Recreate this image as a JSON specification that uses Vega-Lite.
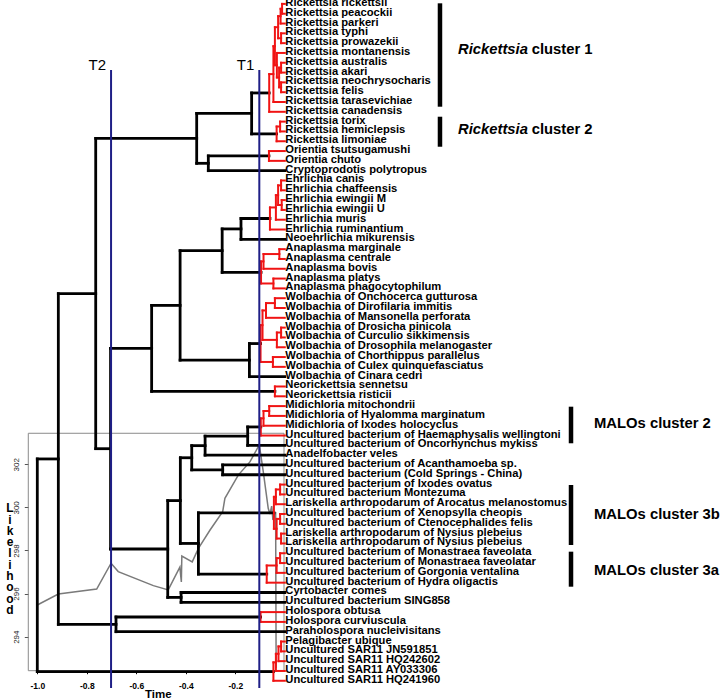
{
  "$schema": "https://vega.github.io/schema/vega-lite/v6.json",
  "width": 720,
  "height": 700,
  "autosize": {"type": "none"},
  "padding": 0,
  "background": "white",
  "config": {"view": {"stroke": null}, "font": "Liberation Sans"},
  "datasets": {
    "nodes": [
      {"id": "L0", "parent": "SFG1", "t": 0, "i": 0, "name": "Rickettsia rickettsii"},
      {"id": "L1", "parent": "SFG1", "t": 0, "i": 1, "name": "Rickettsia peacockii"},
      {"id": "L2", "parent": "SFG2", "t": 0, "i": 2, "name": "Rickettsia parkeri"},
      {"id": "L3", "parent": "TG", "t": 0, "i": 3, "name": "Rickettsia typhi"},
      {"id": "L4", "parent": "TG", "t": 0, "i": 4, "name": "Rickettsia prowazekii"},
      {"id": "L5", "parent": "D", "t": 0, "i": 5, "name": "Rickettsia montanensis"},
      {"id": "L6", "parent": "AA", "t": 0, "i": 6, "name": "Rickettsia australis"},
      {"id": "L7", "parent": "AA", "t": 0, "i": 7, "name": "Rickettsia akari"},
      {"id": "L8", "parent": "NEF", "t": 0, "i": 8, "name": "Rickettsia neochrysocharis"},
      {"id": "L9", "parent": "NEF", "t": 0, "i": 9, "name": "Rickettsia felis"},
      {"id": "L10", "parent": "A", "t": 0, "i": 10, "name": "Rickettsia tarasevichiae"},
      {"id": "L11", "parent": "C1", "t": 0, "i": 11, "name": "Rickettsia canadensis"},
      {"id": "L12", "parent": "TH", "t": 0, "i": 12, "name": "Rickettsia torix"},
      {"id": "L13", "parent": "TH", "t": 0, "i": 13, "name": "Rickettsia hemiclepsis"},
      {"id": "L14", "parent": "C2", "t": 0, "i": 14, "name": "Rickettsia limoniae"},
      {"id": "L15", "parent": "ORI", "t": 0, "i": 15, "name": "Orientia tsutsugamushi"},
      {"id": "L16", "parent": "ORI", "t": 0, "i": 16, "name": "Orientia chuto"},
      {"id": "L17", "parent": "NORI", "t": 0, "i": 17, "name": "Cryptoprodotis polytropus"},
      {"id": "L18", "parent": "ECC", "t": 0, "i": 18, "name": "Ehrlichia canis"},
      {"id": "L19", "parent": "ECC", "t": 0, "i": 19, "name": "Ehrlichia chaffeensis"},
      {"id": "L20", "parent": "EW", "t": 0, "i": 20, "name": "Ehrlichia ewingii M"},
      {"id": "L21", "parent": "EW", "t": 0, "i": 21, "name": "Ehrlichia ewingii U"},
      {"id": "L22", "parent": "E1", "t": 0, "i": 22, "name": "Ehrlichia muris"},
      {"id": "L23", "parent": "EROOT", "t": 0, "i": 23, "name": "Ehrlichia ruminantium"},
      {"id": "L24", "parent": "NEHR", "t": 0, "i": 24, "name": "Neoehrlichia mikurensis"},
      {"id": "L25", "parent": "MC", "t": 0, "i": 25, "name": "Anaplasma marginale"},
      {"id": "L26", "parent": "MC", "t": 0, "i": 26, "name": "Anaplasma centrale"},
      {"id": "L27", "parent": "A1", "t": 0, "i": 27, "name": "Anaplasma bovis"},
      {"id": "L28", "parent": "A2", "t": 0, "i": 28, "name": "Anaplasma platys"},
      {"id": "L29", "parent": "A2", "t": 0, "i": 29, "name": "Anaplasma phagocytophilum"},
      {"id": "L30", "parent": "OD", "t": 0, "i": 30, "name": "Wolbachia of Onchocerca gutturosa"},
      {"id": "L31", "parent": "OD", "t": 0, "i": 31, "name": "Wolbachia of Dirofilaria immitis"},
      {"id": "L32", "parent": "W3", "t": 0, "i": 32, "name": "Wolbachia of Mansonella perforata"},
      {"id": "L33", "parent": "DC", "t": 0, "i": 33, "name": "Wolbachia of Drosicha pinicola"},
      {"id": "L34", "parent": "DC", "t": 0, "i": 34, "name": "Wolbachia of Curculio sikkimensis"},
      {"id": "L35", "parent": "W4", "t": 0, "i": 35, "name": "Wolbachia of Drosophila melanogaster"},
      {"id": "L36", "parent": "CCX", "t": 0, "i": 36, "name": "Wolbachia of Chorthippus parallelus"},
      {"id": "L37", "parent": "CCX", "t": 0, "i": 37, "name": "Wolbachia of Culex quinquefasciatus"},
      {"id": "L38", "parent": "WR", "t": 0, "i": 38, "name": "Wolbachia of Cinara cedri"},
      {"id": "L39", "parent": "NEO", "t": 0, "i": 39, "name": "Neorickettsia sennetsu"},
      {"id": "L40", "parent": "NEO", "t": 0, "i": 40, "name": "Neorickettsia risticii"},
      {"id": "L41", "parent": "M2", "t": 0, "i": 41, "name": "Midichloria mitochondrii"},
      {"id": "L42", "parent": "M2", "t": 0, "i": 42, "name": "Midichloria of Hyalomma marginatum"},
      {"id": "L43", "parent": "M1", "t": 0, "i": 43, "name": "Midichloria of Ixodes holocyclus"},
      {"id": "L44", "parent": "MR", "t": 0, "i": 44, "name": "Uncultured bacterium of Haemaphysalis wellingtoni"},
      {"id": "L45", "parent": "NR", "t": 0, "i": 45, "name": "Uncultured bacterium of Oncorhynchus mykiss"},
      {"id": "L46", "parent": "NQ", "t": 0, "i": 46, "name": "Anadelfobacter veles"},
      {"id": "L47", "parent": "NAC", "t": 0, "i": 47, "name": "Uncultured bacterium of Acanthamoeba sp."},
      {"id": "L48", "parent": "NAC", "t": 0, "i": 48, "name": "Uncultured bacterium (Cold Springs - China)"},
      {"id": "L49", "parent": "IM", "t": 0, "i": 49, "name": "Uncultured bacterium of Ixodes ovatus"},
      {"id": "L50", "parent": "IM", "t": 0, "i": 50, "name": "Uncultured bacterium Montezuma"},
      {"id": "L51", "parent": "IMA", "t": 0, "i": 51, "name": "Lariskella arthropodarum of Arocatus melanostomus"},
      {"id": "L52", "parent": "XC", "t": 0, "i": 52, "name": "Uncultured bacterium of Xenopsylla cheopis"},
      {"id": "L53", "parent": "XC", "t": 0, "i": 53, "name": "Uncultured bacterium of Ctenocephalides felis"},
      {"id": "L54", "parent": "NN", "t": 0, "i": 54, "name": "Lariskella arthropodarum of Nysius plebeius"},
      {"id": "L55", "parent": "NN", "t": 0, "i": 55, "name": "Lariskella arthropodarum of Nysius plebeius"},
      {"id": "L56", "parent": "MM", "t": 0, "i": 56, "name": "Uncultured bacterium of Monastraea faveolata"},
      {"id": "L57", "parent": "MM", "t": 0, "i": 57, "name": "Uncultured bacterium of Monastraea faveolatar"},
      {"id": "L58", "parent": "G", "t": 0, "i": 58, "name": "Uncultured bacterium of Gorgonia ventalina"},
      {"id": "L59", "parent": "A3", "t": 0, "i": 59, "name": "Uncultured bacterium of Hydra oligactis"},
      {"id": "L60", "parent": "NCYR", "t": 0, "i": 60, "name": "Cyrtobacter comes"},
      {"id": "L61", "parent": "NCYR", "t": 0, "i": 61, "name": "Uncultured bacterium SING858"},
      {"id": "L62", "parent": "HO", "t": 0, "i": 62, "name": "Holospora obtusa"},
      {"id": "L63", "parent": "HO", "t": 0, "i": 63, "name": "Holospora curviuscula"},
      {"id": "L64", "parent": "NHOL", "t": 0, "i": 64, "name": "Paraholospora nucleivisitans"},
      {"id": "L65", "parent": "Z", "t": 0, "i": 65, "name": "Pelagibacter ubique"},
      {"id": "L66", "parent": "Z", "t": 0, "i": 66, "name": "Uncultured SAR11 JN591851"},
      {"id": "L67", "parent": "Y", "t": 0, "i": 67, "name": "Uncultured SAR11 HQ242602"},
      {"id": "L68", "parent": "X", "t": 0, "i": 68, "name": "Uncultured SAR11 AY033306"},
      {"id": "L69", "parent": "SR", "t": 0, "i": 69, "name": "Uncultured SAR11 HQ241960"},
      {"id": "SFG1", "parent": "SFG2", "t": -0.011, "i": 0.5, "part": "cluster"},
      {"id": "SFG2", "parent": "C", "t": -0.017, "i": 1.25, "part": "cluster"},
      {"id": "TG", "parent": "C", "t": -0.015, "i": 3.5, "part": "cluster"},
      {"id": "C", "parent": "B", "t": -0.027, "i": 2.375, "part": "cluster"},
      {"id": "AA", "parent": "E", "t": -0.015, "i": 6.5, "part": "cluster"},
      {"id": "NEF", "parent": "E", "t": -0.015, "i": 8.5, "part": "cluster"},
      {"id": "E", "parent": "D", "t": -0.023, "i": 7.5, "part": "cluster"},
      {"id": "D", "parent": "B", "t": -0.032, "i": 6.25, "part": "cluster"},
      {"id": "B", "parent": "A", "t": -0.04, "i": 4.3125, "part": "cluster"},
      {"id": "A", "parent": "C1", "t": -0.046, "i": 7.156, "part": "cluster"},
      {"id": "C1", "parent": "NRIC", "t": -0.063, "i": 9.078, "part": "cluster"},
      {"id": "TH", "parent": "C2", "t": -0.019, "i": 12.5, "part": "cluster"},
      {"id": "C2", "parent": "NRIC", "t": -0.033, "i": 13.25, "part": "cluster"},
      {"id": "NRIC", "parent": "NC", "t": -0.134, "i": 11.164, "part": "backbone"},
      {"id": "ORI", "parent": "NORI", "t": -0.064, "i": 15.5, "part": "cluster"},
      {"id": "NORI", "parent": "NC", "t": -0.309, "i": 16.25, "part": "backbone"},
      {"id": "NC", "parent": "NB", "t": -0.356, "i": 13.707, "part": "backbone"},
      {"id": "ECC", "parent": "E2", "t": -0.015, "i": 18.5, "part": "cluster"},
      {"id": "EW", "parent": "E2", "t": -0.0125, "i": 20.5, "part": "cluster"},
      {"id": "E2", "parent": "E1", "t": -0.027, "i": 19.5, "part": "cluster"},
      {"id": "E1", "parent": "EROOT", "t": -0.036, "i": 20.75, "part": "cluster"},
      {"id": "EROOT", "parent": "NEHR", "t": -0.06, "i": 21.875, "part": "cluster"},
      {"id": "NEHR", "parent": "NH", "t": -0.177, "i": 22.938, "part": "backbone"},
      {"id": "MC", "parent": "A1", "t": -0.022, "i": 25.5, "part": "cluster"},
      {"id": "A1", "parent": "ANA", "t": -0.086, "i": 26.25, "part": "cluster"},
      {"id": "A2", "parent": "ANA", "t": -0.046, "i": 28.5, "part": "cluster"},
      {"id": "ANA", "parent": "NH", "t": -0.096, "i": 27.375, "part": "cluster"},
      {"id": "NH", "parent": "NG", "t": -0.253, "i": 25.156, "part": "backbone"},
      {"id": "OD", "parent": "W3", "t": -0.04, "i": 30.5, "part": "cluster"},
      {"id": "W3", "parent": "W2", "t": -0.076, "i": 31.25, "part": "cluster"},
      {"id": "DC", "parent": "W4", "t": -0.015, "i": 33.5, "part": "cluster"},
      {"id": "W4", "parent": "W2", "t": -0.032, "i": 34.25, "part": "cluster"},
      {"id": "W2", "parent": "W1", "t": -0.09, "i": 32.75, "part": "cluster"},
      {"id": "CCX", "parent": "W1", "t": -0.048, "i": 36.5, "part": "cluster"},
      {"id": "W1", "parent": "WR", "t": -0.098, "i": 34.625, "part": "cluster"},
      {"id": "WR", "parent": "NG", "t": -0.143, "i": 36.313, "part": "backbone"},
      {"id": "NG", "parent": "NE", "t": -0.423, "i": 30.734, "part": "backbone"},
      {"id": "NEO", "parent": "NE", "t": -0.04, "i": 39.5, "part": "cluster"},
      {"id": "NE", "parent": "ND", "t": -0.538, "i": 35.117, "part": "backbone"},
      {"id": "M2", "parent": "M1", "t": -0.063, "i": 41.5, "part": "cluster"},
      {"id": "M1", "parent": "MR", "t": -0.086, "i": 42.25, "part": "cluster"},
      {"id": "MR", "parent": "NR", "t": -0.097, "i": 43.125, "part": "cluster"},
      {"id": "NR", "parent": "NQ", "t": -0.15, "i": 44.063, "part": "backbone"},
      {"id": "NQ", "parent": "NM2", "t": -0.322, "i": 45.031, "part": "backbone"},
      {"id": "NAC", "parent": "NM2", "t": -0.251, "i": 47.5, "part": "backbone"},
      {"id": "NM2", "parent": "NMM", "t": -0.376, "i": 46.266, "part": "backbone"},
      {"id": "IM", "parent": "IMA", "t": -0.019, "i": 49.5, "part": "cluster"},
      {"id": "IMA", "parent": "B3", "t": -0.036, "i": 50.25, "part": "cluster"},
      {"id": "XC", "parent": "XCN", "t": -0.019, "i": 52.5, "part": "cluster"},
      {"id": "NN", "parent": "XCN", "t": -0.015, "i": 54.5, "part": "cluster"},
      {"id": "XCN", "parent": "B3", "t": -0.033, "i": 53.5, "part": "cluster"},
      {"id": "B3", "parent": "N3", "t": -0.044, "i": 51.875, "part": "cluster"},
      {"id": "MM", "parent": "G", "t": -0.019, "i": 56.5, "part": "cluster"},
      {"id": "G", "parent": "A3", "t": -0.033, "i": 57.25, "part": "cluster"},
      {"id": "A3", "parent": "N3", "t": -0.073, "i": 58.125, "part": "cluster"},
      {"id": "N3", "parent": "NMM", "t": -0.349, "i": 55.0, "part": "backbone"},
      {"id": "NMM", "parent": "NFF", "t": -0.422, "i": 50.633, "part": "backbone"},
      {"id": "NCYR", "parent": "NFF", "t": -0.419, "i": 60.5, "part": "backbone"},
      {"id": "NFF", "parent": "ND", "t": -0.473, "i": 55.566, "part": "backbone"},
      {"id": "ND", "parent": "NB", "t": -0.704, "i": 45.342, "part": "backbone"},
      {"id": "NB", "parent": "NA", "t": -0.764, "i": 29.524, "part": "backbone"},
      {"id": "HO", "parent": "NHOL", "t": -0.098, "i": 62.5, "part": "cluster"},
      {"id": "NHOL", "parent": "NA", "t": -0.682, "i": 63.25, "part": "backbone"},
      {"id": "NA", "parent": "ROOT", "t": -0.915, "i": 46.387, "part": "backbone"},
      {"id": "Z", "parent": "Y", "t": -0.015, "i": 65.5, "part": "cluster"},
      {"id": "Y", "parent": "X", "t": -0.0255, "i": 66.25, "part": "cluster"},
      {"id": "X", "parent": "SR", "t": -0.036, "i": 67.125, "part": "cluster"},
      {"id": "SR", "parent": "ROOT", "t": -0.046, "i": 68.063, "part": "cluster"},
      {"id": "ROOT", "parent": null, "t": -1.0, "i": 57.225, "part": "backbone"}
    ],
    "likelihood": [
      {"t": -1.0, "L": 295.47},
      {"t": -0.915, "L": 295.98},
      {"t": -0.76, "L": 296.21},
      {"t": -0.702, "L": 297.41},
      {"t": -0.673, "L": 297.02},
      {"t": -0.531, "L": 296.37},
      {"t": -0.471, "L": 296.17},
      {"t": -0.424, "L": 297.23},
      {"t": -0.418, "L": 296.54},
      {"t": -0.416, "L": 297.74},
      {"t": -0.374, "L": 297.47},
      {"t": -0.349, "L": 298.1},
      {"t": -0.302, "L": 298.95},
      {"t": -0.251, "L": 299.8},
      {"t": -0.242, "L": 300.42},
      {"t": -0.188, "L": 301.5},
      {"t": -0.141, "L": 302.11},
      {"t": -0.103, "L": 302.9},
      {"t": -0.087, "L": 301.66},
      {"t": -0.067, "L": 299.96},
      {"t": -0.06, "L": 299.69},
      {"t": -0.053, "L": 300.06},
      {"t": -0.048, "L": 299.42},
      {"t": -0.037, "L": 299.79},
      {"t": -0.035, "L": 292.55}
    ],
    "thresholds": [
      {"name": "T2", "t": -0.702},
      {"name": "T1", "t": -0.103}
    ],
    "clusters": [
      {"group": "Rickettsia", "label": "cluster 1", "from": -0.06, "to": 10.48, "mid": 4.7},
      {"group": "Rickettsia", "label": "cluster 2", "from": 11.5, "to": 14.56, "mid": 12.85},
      {"group": "MALOs", "label": "MALOs cluster 2", "from": 41.06, "to": 44.79, "mid": 42.8},
      {"group": "MALOs", "label": "MALOs cluster 3b", "from": 49.04, "to": 55.16, "mid": 52.1},
      {"group": "MALOs", "label": "MALOs cluster 3a", "from": 55.84, "to": 59.41, "mid": 57.78}
    ]
  },
  "layer": [
    {
      "layer": [
        {
          "data": {"values": [{}]},
          "mark": {"type": "rect", "filled": false, "stroke": "#8a8a8a", "strokeWidth": 1},
          "encoding": {
            "x": {"datum": -1.0364, "type": "quantitative", "scale": {"domain": [-1.1507, 1.7584], "nice": false, "zero": false}},
            "x2": {"datum": -0.0032},
            "y": {"datum": 303.44, "type": "quantitative", "scale": {"domain": [291.06, 323.55], "nice": false, "zero": false}},
            "y2": {"datum": 292.42}
          }
        },
        {
          "data": {"name": "likelihood"},
          "mark": {"type": "line", "color": "#7a7a7a", "strokeWidth": 1.5},
          "encoding": {
            "x": {"field": "t", "type": "quantitative", "scale": {"domain": [-1.1507, 1.7584], "nice": false, "zero": false},
              "axis": {"title": null, "values": [-1, -0.8, -0.6, -0.4, -0.2], "labelExpr": "replace(format(datum.value, '.1f'), '\u2212', '-')", "offset": -29.3, "domain": false, "grid": false, "ticks": true, "tickSize": 3, "tickColor": "#000000", "labelFont": "Liberation Sans", "labelFontSize": 8.5, "labelFontWeight": "bold", "labelColor": "#000000", "labelPadding": 8}},
            "y": {"field": "L", "type": "quantitative", "scale": {"domain": [291.06, 323.55], "nice": false, "zero": false},
              "axis": {"orient": "left", "title": null, "values": [294, 296, 298, 300, 302], "offset": -28.3, "domain": false, "grid": false, "ticks": true, "tickSize": 4, "tickColor": "#555555", "labelAngle": -90, "labelAlign": "center", "labelBaseline": "bottom", "labelFont": "Liberation Sans", "labelFontSize": 8, "labelColor": "#222222", "labelPadding": 4}}
          }
        },
        {
          "data": {"values": [{}]},
          "mark": {"type": "text", "text": "L\ni\nk\ne\nl\ni\nh\no\no\nd", "lineBreak": "\n", "lineHeight": 11.3, "align": "center", "baseline": "middle", "font": "Liberation Sans", "fontSize": 12, "fontWeight": "bold", "color": "#000000"},
          "encoding": {
            "x": {"datum": -1.1103, "type": "quantitative"},
            "y": {"datum": 299.96, "type": "quantitative"}
          }
        },
        {
          "data": {"values": [{}]},
          "mark": {"type": "text", "text": "Time", "align": "center", "baseline": "middle", "font": "Liberation Sans", "fontSize": 11.5, "fontWeight": "bold", "color": "#000000"},
          "encoding": {
            "x": {"datum": -0.511, "type": "quantitative"},
            "y": {"datum": 291.3, "type": "quantitative"}
          }
        }
      ]
    },
    {
      "layer": [
        {
          "data": {"name": "nodes"},
          "transform": [
            {"filter": "datum.parent != null"},
            {"lookup": "parent", "from": {"data": {"name": "nodes"}, "key": "id", "fields": ["t", "part"]}, "as": ["pt", "ppart"]}
          ],
          "mark": {"type": "rule", "strokeCap": "square"},
          "encoding": {
            "x": {"field": "pt", "type": "quantitative"},
            "x2": {"field": "t"},
            "y": {"field": "i", "type": "quantitative", "axis": null, "scale": {"domain": [-0.398, 70.96], "reverse": true, "nice": false, "zero": false}},
            "color": {"field": "ppart", "type": "nominal", "scale": {"domain": ["backbone", "cluster"], "range": ["#000000", "#f01414"]}, "legend": null},
            "strokeWidth": {"field": "ppart", "type": "ordinal", "scale": {"domain": ["backbone", "cluster"], "range": [2.8, 2]}, "legend": null}
          }
        },
        {
          "data": {"name": "nodes"},
          "transform": [
            {"filter": "datum.parent != null"},
            {"aggregate": [{"op": "min", "field": "i", "as": "i0"}, {"op": "max", "field": "i", "as": "i1"}], "groupby": ["parent"]},
            {"lookup": "parent", "from": {"data": {"name": "nodes"}, "key": "id", "fields": ["t", "part"]}, "as": ["nt", "npart"]}
          ],
          "mark": {"type": "rule", "strokeCap": "square"},
          "encoding": {
            "x": {"field": "nt", "type": "quantitative"},
            "y": {"field": "i0", "type": "quantitative", "axis": null, "scale": {"domain": [-0.398, 70.96], "reverse": true, "nice": false, "zero": false}},
            "y2": {"field": "i1"},
            "color": {"field": "npart", "type": "nominal", "scale": {"domain": ["backbone", "cluster"], "range": ["#000000", "#f01414"]}, "legend": null},
            "strokeWidth": {"field": "npart", "type": "ordinal", "scale": {"domain": ["backbone", "cluster"], "range": [2.8, 2]}, "legend": null}
          }
        },
        {
          "data": {"name": "thresholds"},
          "mark": {"type": "rule", "color": "#1f1f86", "strokeWidth": 2},
          "encoding": {
            "x": {"field": "t", "type": "quantitative"},
            "y": {"datum": 6.74, "type": "quantitative", "axis": null},
            "y2": {"datum": 69.74}
          }
        },
        {
          "data": {"name": "thresholds"},
          "mark": {"type": "text", "align": "right", "baseline": "middle", "dx": -5, "font": "Liberation Sans", "fontSize": 15, "color": "#000000"},
          "encoding": {
            "x": {"field": "t", "type": "quantitative"},
            "y": {"datum": 6.23, "type": "quantitative", "axis": null},
            "text": {"field": "name"}
          }
        },
        {
          "data": {"name": "nodes"},
          "transform": [{"filter": "datum.name != null"}],
          "mark": {"type": "text", "align": "left", "baseline": "middle", "dx": 0.5, "dy": -1, "font": "Liberation Sans", "fontSize": 11.2, "fontWeight": "bold", "color": "#000000"},
          "encoding": {
            "x": {"field": "t", "type": "quantitative"},
            "y": {"field": "i", "type": "quantitative", "axis": null},
            "text": {"field": "name"}
          }
        },
        {
          "data": {"name": "clusters"},
          "transform": [{"filter": "datum.group == 'Rickettsia'"}],
          "mark": {"type": "rule", "color": "#000000", "strokeWidth": 4.5},
          "encoding": {
            "x": {"datum": 0.627, "type": "quantitative"},
            "y": {"field": "from", "type": "quantitative", "axis": null},
            "y2": {"field": "to"}
          }
        },
        {
          "data": {"name": "clusters"},
          "transform": [{"filter": "datum.group == 'MALOs'"}],
          "mark": {"type": "rule", "color": "#000000", "strokeWidth": 4.5},
          "encoding": {
            "x": {"datum": 1.1564, "type": "quantitative"},
            "y": {"field": "from", "type": "quantitative", "axis": null},
            "y2": {"field": "to"}
          }
        },
        {
          "data": {"name": "clusters"},
          "transform": [{"filter": "datum.group == 'Rickettsia'"}],
          "mark": {"type": "text", "align": "left", "baseline": "middle", "font": "Liberation Sans", "fontSize": 14.8, "fontWeight": "bold", "fontStyle": "italic", "color": "#000000"},
          "encoding": {
            "x": {"datum": 0.6998, "type": "quantitative"},
            "y": {"field": "mid", "type": "quantitative", "axis": null},
            "text": {"field": "group"}
          }
        },
        {
          "data": {"name": "clusters"},
          "transform": [{"filter": "datum.group == 'Rickettsia'"}],
          "mark": {"type": "text", "align": "left", "baseline": "middle", "font": "Liberation Sans", "fontSize": 14.8, "fontWeight": "bold", "color": "#000000"},
          "encoding": {
            "x": {"datum": 0.9976, "type": "quantitative"},
            "y": {"field": "mid", "type": "quantitative", "axis": null},
            "text": {"field": "label"}
          }
        },
        {
          "data": {"name": "clusters"},
          "transform": [{"filter": "datum.group == 'MALOs'"}],
          "mark": {"type": "text", "align": "left", "baseline": "middle", "font": "Liberation Sans", "fontSize": 14.8, "fontWeight": "bold", "color": "#000000"},
          "encoding": {
            "x": {"datum": 1.2493, "type": "quantitative"},
            "y": {"field": "mid", "type": "quantitative", "axis": null},
            "text": {"field": "label"}
          }
        }
      ]
    }
  ],
  "resolve": {"scale": {"y": "independent"}, "axis": {"y": "independent"}}
}
